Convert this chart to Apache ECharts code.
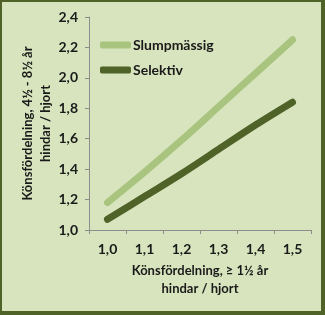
<!DOCTYPE html>
<html><head><meta charset="utf-8">
<script src="https://cdn.jsdelivr.net/npm/echarts@6/dist/echarts.min.js"></script>
<style>
html,body{margin:0;padding:0;background:#fff;}
#c{position:absolute;left:0;top:0;width:319px;height:309px;background:#d7e4bd;border-style:solid;border-color:#4f6228;border-width:2px 4px 4px 2px;}
</style></head><body>
<div id="c"></div>
<script>
const categories = ['1,0','1,1','1,2','1,3','1,4','1,5'];
const slumpmassig = [1.18, 1.38, 1.59, 1.81, 2.03, 2.25];
const selektiv = [1.07, 1.22, 1.37, 1.53, 1.69, 1.84];
const seriesNames = ['Slumpmässig', 'Selektiv'];
const xTitle = 'Könsfördelning, ≥ 1½ år\nhindar / hjort';
const yTitle = 'Könsfördelning, 4½ - 8½ år\nhindar / hjort';

const chart = echarts.init(document.getElementById('c'), null, {renderer:'canvas'});
const font = 'Lato, "Liberation Sans", sans-serif';
chart.setOption({
  animation:false,
  grid:{left:87, right:10, top:15, bottom:81},
  legend:{
    left:93, top:31, orient:'vertical', itemGap:11, itemWidth:31, itemHeight:7,
    data:seriesNames,
    textStyle:{fontFamily:font, fontWeight:'bold', fontSize:14, color:'#1a1a1a', padding:[0,0,0,-3]},
    icon:'roundRect'
  },
  xAxis:{
    type:'category', data:categories, boundaryGap:true,
    axisLine:{lineStyle:{color:'#8c8c8c'}},
    axisTick:{show:true, length:4, lineStyle:{color:'#8c8c8c'}},
    axisLabel:{fontFamily:font, fontWeight:'bold', fontSize:14, color:'#1a1a1a', margin:12},
    name:xTitle, nameLocation:'middle', nameGap:32, nameMoveOverlap:false,
    nameTextStyle:{fontFamily:font, fontWeight:'bold', fontSize:13, color:'#1a1a1a', lineHeight:18}
  },
  yAxis:{
    type:'value', min:1.0, max:2.4, interval:0.2,
    splitLine:{show:false},
    axisLine:{show:true, lineStyle:{color:'#8c8c8c'}},
    axisTick:{show:true, length:4, lineStyle:{color:'#8c8c8c'}},
    axisLabel:{fontFamily:font, fontWeight:'bold', fontSize:14, color:'#1a1a1a', margin:11,
      formatter:v=>v.toFixed(1).replace('.',',')},
    name:yTitle, nameLocation:'middle', nameGap:34, nameRotate:90, nameMoveOverlap:false,
    nameTextStyle:{fontFamily:font, fontWeight:'bold', fontSize:13, color:'#1a1a1a', lineHeight:18}
  },
  series:[
    {name:seriesNames[0], type:'line', data:slumpmassig, smooth:0.3, showSymbol:false, symbol:'none',
     lineStyle:{color:'#a9c47f', width:7, cap:'round'}, itemStyle:{color:'#a9c47f'}},
    {name:seriesNames[1], type:'line', data:selektiv, smooth:0.3, showSymbol:false, symbol:'none',
     lineStyle:{color:'#4f6228', width:7, cap:'round'}, itemStyle:{color:'#4f6228'}}
  ]
});
</script>
</body></html>
